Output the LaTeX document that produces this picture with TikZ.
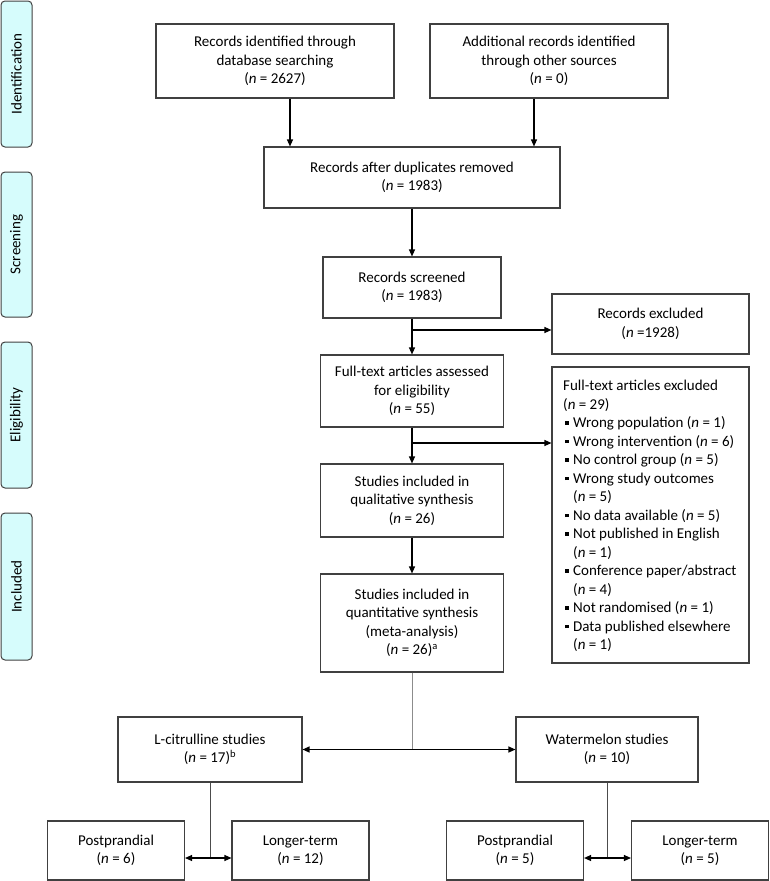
\documentclass[tikz,border=0pt]{standalone}
\usepackage{fontspec}
\setmainfont{Carlito}
\usetikzlibrary{arrows.meta}
\definecolor{sidecol}{RGB}{214,252,252}
\definecolor{boxline}{RGB}{64,64,64}
\newcommand\bul{\hspace*{2pt}\rule[3pt]{3.5pt}{3.5pt}\hspace{4.5pt}}
\newcommand\hang{\hspace*{10pt}}
\newcommand\nn{\textit{n}}
\begin{document}
\begin{tikzpicture}[x=1pt,y=-1pt,
  font=\fontsize{15}{18.5}\selectfont,
  box/.style={draw=boxline, line width=1.1pt, align=center, inner sep=0pt},
  side/.style={draw=boxline, fill=sidecol, rounded corners=4pt, line width=1pt},
  arr/.style={-{Triangle[length=7pt,width=6pt]}, line width=1.2pt},
  darr/.style={{Triangle[length=7pt,width=6pt]}-{Triangle[length=7pt,width=6pt]}, line width=1.2pt},
  thinline/.style={line width=0.8pt, draw=black!70},
  grayline/.style={line width=1pt, draw=black!45}]
\useasboundingbox (0,0) rectangle (770,881);

% side labels
\draw[side] (1,1) rectangle (32,147) node[midway, rotate=90] (sid) {Identification};
\draw[side] (1,172) rectangle (32,317) node[midway, rotate=90] (sscr) {Screening};
\draw[side] (1,342) rectangle (32,488) node[midway, rotate=90] (selig) {Eligibility};
\draw[side] (1,513) rectangle (32,660) node[midway, rotate=90] (sinc) {Included};

% boxes
\node[box, minimum width=238, minimum height=74] (b1) at (275,61)
  {Records identified through\\database searching\\(\nn{} = 2627)};
\node[box, minimum width=238, minimum height=74] (b2) at (549,61)
  {Additional records identified\\through other sources\\(\nn{} = 0)};
\node[box, minimum width=296, minimum height=61] (b3) at (412,177.5)
  {Records after duplicates removed\\(\nn{} = 1983)};
\node[box, minimum width=178, minimum height=61] (b4) at (412,287.5)
  {Records screened\\(\nn{} = 1983)};
\node[box, minimum width=197, minimum height=60] (e1) at (650.5,324)
  {Records excluded\\(\nn{} =1928)};
\node[box, minimum width=183, minimum height=72] (b5) at (412,391)
  {Full-text articles assessed\\for eligibility\\(\nn{} = 55)};
\node[box, minimum width=197, minimum height=296] (e2) at (650.5,515) {};
\node[align=left, anchor=north west, inner sep=0pt] (e2t) at (563,380)
  {Full-text articles excluded\\
   (\nn{} = 29)\\
   \bul Wrong population (\nn{} = 1)\\
   \bul Wrong intervention (\nn{} = 6)\\
   \bul No control group (\nn{} = 5)\\
   \bul Wrong study outcomes\\
   \hang(\nn{} = 5)\\
   \bul No data available (\nn{} = 5)\\
   \bul Not published in English\\
   \hang(\nn{} = 1)\\
   \bul Conference paper/abstract\\
   \hang(\nn{} = 4)\\
   \bul Not randomised (\nn{} = 1)\\
   \bul Data published elsewhere\\
   \hang(\nn{} = 1)};
\node[box, minimum width=183, minimum height=73] (b6) at (412,500.5)
  {Studies included in\\qualitative synthesis\\(\nn{} = 26)};
\node[box, minimum width=183, minimum height=98] (b7) at (412,623)
  {Studies included in\\quantitative synthesis\\(meta-analysis)\\(\nn{} = 26)\textsuperscript{a}};
\node[box, minimum width=184, minimum height=65] (lc) at (210,749.5)
  {L-citrulline studies\\(\nn{} = 17)\textsuperscript{b}};
\node[box, minimum width=182, minimum height=65] (wm) at (607,749.5)
  {Watermelon studies\\(\nn{} = 10)};
\node[box, minimum width=137, minimum height=59] (ppl) at (116,850.5)
  {Postprandial\\(\nn{} = 6)};
\node[box, minimum width=137, minimum height=59] (ltl) at (300.5,850.5)
  {Longer-term\\(\nn{} = 12)};
\node[box, minimum width=137, minimum height=59] (ppr) at (515,850.5)
  {Postprandial\\(\nn{} = 5)};
\node[box, minimum width=137, minimum height=59] (ltr) at (700,850.5)
  {Longer-term\\(\nn{} = 5)};

% connectors
\coordinate (xa) at (290,0);
\coordinate (xb) at (534,0);
\coordinate (ya) at (0,330);
\coordinate (yb) at (0,443);
\coordinate (yc) at (0,858);
\draw[arr] (b1.south -| xa) -- (b3.north -| xa);
\draw[arr] (b2.south -| xb) -- (b3.north -| xb);
\draw[arr] (b3.south -| b4.north) -- (b4.north);
\draw[arr] (b4.south) -- (b5.north);
\draw[arr] (b4.south |- ya) -- (e1.west |- ya);
\draw[arr] (b5.south) -- (b6.north);
\draw[arr] (b5.south |- yb) -- (e2.west |- yb);
\draw[arr] (b6.south) -- (b7.north);
\draw[grayline] (b7.south) -- (b7.south |- lc.east);
\draw[darr] (lc.east) -- (wm.west);
\draw[thinline] (lc.south) -- (lc.south |- yc);
\draw[darr] (ppl.east |- yc) -- (ltl.west |- yc);
\draw[thinline] (wm.south) -- (wm.south |- yc);
\draw[darr] (ppr.east |- yc) -- (ltr.west |- yc);
\end{tikzpicture}
\end{document}
